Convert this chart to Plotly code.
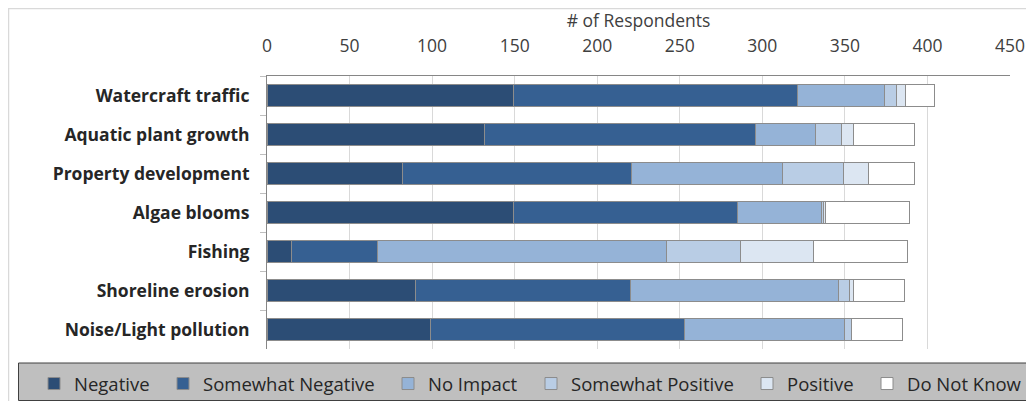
import plotly.graph_objects as go

categories = ["Watercraft traffic", "Aquatic plant growth", "Property development",
              "Algae blooms", "Fishing", "Shoreline erosion", "Noise/Light pollution"]
negative = [149, 132, 82, 149, 15, 90, 99]
somewhat_negative = [172, 164, 139, 136, 52, 130, 154]
no_impact = [53, 36, 91, 51, 175, 126, 97]
somewhat_positive = [7, 16, 37, 1, 45, 7, 4]
positive = [6, 7, 15, 1, 44, 2, 0]
do_not_know = [17, 37, 28, 51, 57, 31, 31]

series_names = ["Negative", "Somewhat Negative", "No Impact", "Somewhat Positive", "Positive", "Do Not Know"]
series_values = [negative, somewhat_negative, no_impact, somewhat_positive, positive, do_not_know]
colors = ["#2c4d75", "#366092", "#95b3d7", "#b9cde5", "#dce6f2", "#ffffff"]
# left edge (page px) of each legend swatch
legend_swatch_x = [54, 183, 408, 551, 767, 887]

# page body margin of 8px on every side
O = 8
W, H = 1034 - 2 * O, 409 - 2 * O
L, R, T, B = 267 - O, 1010 - O, 76 - O, 349 - O
def px(x): return (x - O - L) / (R - L)   # x given in page pixels
def py(y): return (B - (y - O)) / (B - T)  # y given in page pixels

fig = go.Figure()
legends = {}
for i, (name, vals, col) in enumerate(zip(series_names, series_values, colors)):
    lname = "legend" if i == 0 else f"legend{i + 1}"
    fig.add_trace(go.Bar(
        y=categories, x=vals, name=name, orientation="h", legend=lname, showlegend=True,
        marker=dict(color=col, line=dict(color="#8c8c8c", width=1)),
    ))
    legends[lname] = dict(
        x=px(legend_swatch_x[i] - 20), xanchor="left", y=py(384), yanchor="middle",
        bgcolor="rgba(0,0,0,0)", borderwidth=0,
        font=dict(family="Open Sans", size=18.5, color="#262626"), itemwidth=30,
    )

shapes = [
    dict(type="rect", xref="paper", yref="paper", x0=px(8.5), x1=px(1040), y0=py(420), y1=py(8.5),
         fillcolor="rgba(0,0,0,0)", line=dict(color="#d9d9d9", width=1.5), layer="below"),
    dict(type="rect", xref="paper", yref="paper", x0=px(18.5), x1=px(1040), y0=py(400.5), y1=py(363),
         fillcolor="#bfbfbf", line=dict(color="#404040", width=1), layer="below"),
]

fig.update_layout(
    width=W, height=H, showlegend=True,
    margin=dict(l=L, r=W - R, t=T, b=H - B, autoexpand=False),
    paper_bgcolor="white", plot_bgcolor="white",
    barmode="stack", bargap=0.45,
    font=dict(family="Open Sans", size=17, color="#404040"),
    xaxis=dict(side="top", range=[0, 450], dtick=50, showgrid=True, gridcolor="#d9d9d9",
               gridwidth=1, showline=True, linecolor="#868686", linewidth=1, ticks="",
               zeroline=False, automargin=False, ticklabelstandoff=16,
               tickfont=dict(size=17.5, color="#404040"),
               title=dict(text="# of Respondents", font=dict(size=17.5, color="#404040"), standoff=0)),
    yaxis=dict(autorange="reversed", showline=True, linecolor="#868686", linewidth=1,
               ticks="outside", tickson="boundaries", ticklen=6, tickcolor="#bfbfbf",
               automargin=False, ticklabelstandoff=13,
               tickfont=dict(family="Open Sans", size=17.5, color="#262626", weight="bold"),
               showgrid=False),
    shapes=shapes,
    **legends,
)

fig.write_html("out.html")
